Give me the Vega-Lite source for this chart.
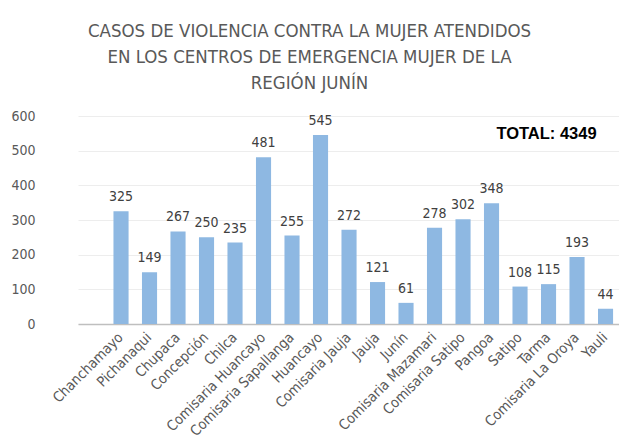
{
  "$schema": "https://vega.github.io/schema/vega-lite/v6.json",
  "autosize": {"type": "none"},
  "width": 541,
  "height": 208,
  "padding": {"left": 78, "top": 116, "right": 0, "bottom": 119},
  "background": "white",
  "title": {
    "text": ["CASOS DE VIOLENCIA CONTRA LA MUJER ATENDIDOS", "EN LOS CENTROS DE EMERGENCIA MUJER DE LA", "REGIÓN JUNÍN"],
    "anchor": "middle",
    "dx": -39,
    "offset": 17,
    "font": "Liberation Sans Narrow, DejaVu Sans Condensed, sans-serif",
    "fontSize": 18.5,
    "fontWeight": "normal",
    "lineHeight": 26,
    "color": "#595959"
  },
  "data": {
    "values": [
      {"centro": "Chanchamayo", "casos": 325},
      {"centro": "Pichanaqui", "casos": 149},
      {"centro": "Chupaca", "casos": 267},
      {"centro": "Concepción", "casos": 250},
      {"centro": "Chilca", "casos": 235},
      {"centro": "Comisaria Huancayo", "casos": 481},
      {"centro": "Comisaria Sapallanga", "casos": 255},
      {"centro": "Huancayo", "casos": 545},
      {"centro": "Comisaria Jauja", "casos": 272},
      {"centro": "Jauja", "casos": 121},
      {"centro": "Junín", "casos": 61},
      {"centro": "Comisaria Mazamari", "casos": 278},
      {"centro": "Comisaria Satipo", "casos": 302},
      {"centro": "Pangoa", "casos": 348},
      {"centro": "Satipo", "casos": 108},
      {"centro": "Tarma", "casos": 115},
      {"centro": "Comisaria La Oroya", "casos": 193},
      {"centro": "Yauli", "casos": 44}
    ]
  },
  "encoding": {
    "x": {
      "field": "centro",
      "type": "nominal",
      "sort": null,
      "scale": {"paddingInner": 0.47, "paddingOuter": 0.726, "align": 0.857},
      "axis": {
        "title": null,
        "labelAngle": -45,
        "labelAlign": "right",
        "labelBaseline": "middle",
        "labelFont": "Liberation Sans Narrow, DejaVu Sans Condensed, sans-serif",
        "labelFontSize": 14.3,
        "labelColor": "#595959",
        "labelPadding": 11,
        "labelOverlap": false,
        "ticks": false,
        "domainColor": "#BFBFBF",
        "domainWidth": 1.5,
        "grid": false
      }
    },
    "y": {
      "field": "casos",
      "type": "quantitative",
      "scale": {"domain": [0, 600], "nice": false},
      "axis": {
        "title": null,
        "values": [0, 100, 200, 300, 400, 500, 600],
        "labelFont": "Liberation Sans Narrow, DejaVu Sans Condensed, sans-serif",
        "labelFontSize": 14,
        "labelColor": "#595959",
        "labelPadding": 43,
        "ticks": false,
        "domain": false,
        "grid": true,
        "gridColor": "#EDEDED",
        "gridWidth": 1
      }
    }
  },
  "layer": [
    {"mark": {"type": "bar", "color": "#8EB8E2"}},
    {
      "mark": {
        "type": "text",
        "baseline": "bottom",
        "dy": -7,
        "font": "Liberation Sans Narrow, DejaVu Sans Condensed, sans-serif",
        "fontSize": 14,
        "color": "#404040"
      },
      "encoding": {"text": {"field": "casos", "type": "quantitative"}}
    },
    {
      "data": {"values": [{"centro": "Tarma", "casos": 548, "etiqueta": "TOTAL: 4349"}]},
      "mark": {
        "type": "text",
        "baseline": "middle",
        "dx": -2,
        "font": "Liberation Sans, DejaVu Sans, sans-serif",
        "fontSize": 16.5,
        "fontWeight": "bold",
        "color": "#000000"
      },
      "encoding": {"text": {"field": "etiqueta", "type": "nominal"}}
    }
  ],
  "config": {"view": {"stroke": null}}
}
